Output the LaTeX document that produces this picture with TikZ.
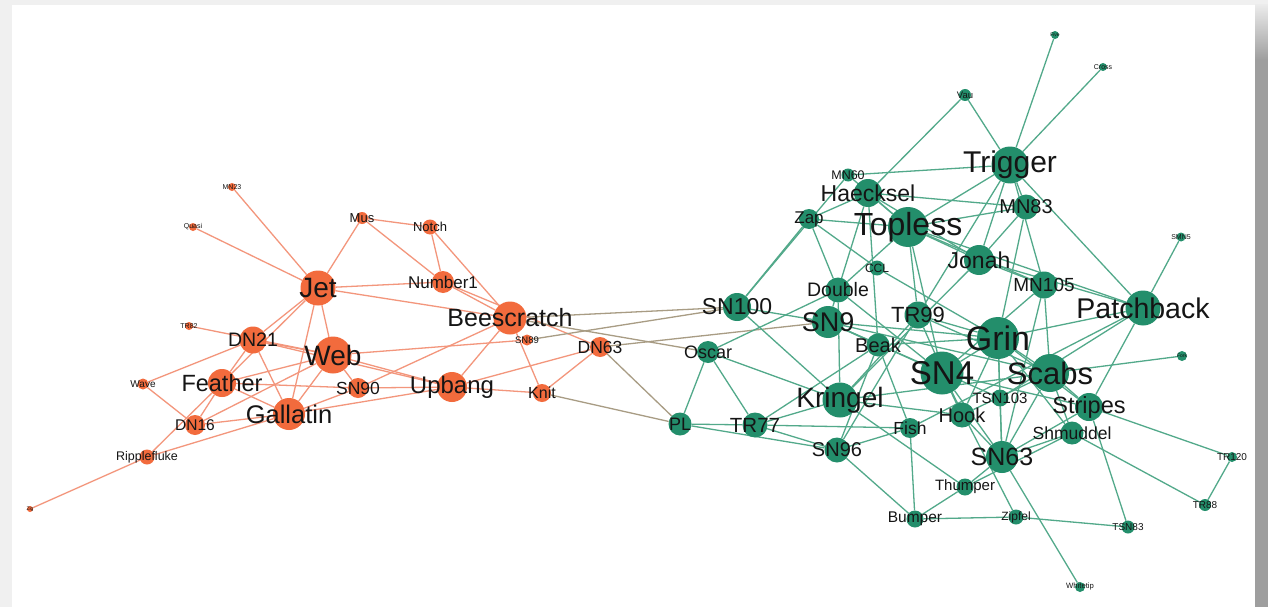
\documentclass[tikz,border=0pt]{standalone}
\usepackage{fontspec}
\setmainfont{Liberation Sans}
\pgfdeclarelayer{back}
\pgfdeclarelayer{edges}
\pgfsetlayers{back,edges,main}
\definecolor{orn}{HTML}{F26B3D}
\definecolor{grn}{HTML}{238E6B}
\definecolor{orne}{HTML}{F3967C}
\definecolor{grne}{HTML}{52A98A}
\definecolor{mixe}{HTML}{A89C84}
\definecolor{ink}{HTML}{151515}

\begin{document}
\begin{tikzpicture}[x=1pt,y=-1pt,
    or/.style={circle,fill=orn,inner sep=0pt,minimum size=#1pt},
    gr/.style={circle,fill=grn,inner sep=0pt,minimum size=#1pt},
    lb/.style 2 args={label={[font=\fontsize{#1}{#1}\selectfont,text=ink]center:#2}},
    dim/.style={every label/.append style={text=black!#1}},
    oe/.style={draw=orne,line width=1.3pt},
    ge/.style={draw=grne,line width=1.3pt},
    me/.style={draw=mixe,line width=1.3pt}]
    \useasboundingbox (0,0) rectangle (1268,607);
    \begin{pgfonlayer}{back}
        \fill[black!6] (0,0) rectangle (1268,607);
        \fill[white] (12,5) rectangle (1255,607);
        \shade[top color=black!8,bottom color=black!38] (1255,5) rectangle (1268,60);
        \fill[black!38] (1255,60) rectangle (1268,607);
    \end{pgfonlayer}
    % orange group
    \node[or=6,lb={5}{Zig}] (zig) at (30,509) {};
    \node[or=15,lb={12.5}{Ripplefluke},dim=80] (ripplefluke) at (147,457) {};
    \node[or=11,lb={10}{Wave}] (wave) at (143,384) {};
    \node[or=8,lb={7}{TR82}] (tr82) at (189,326) {};
    \node[or=8,lb={7}{Quasi}] (quasi) at (193,227) {};
    \node[or=8,lb={7}{MN23}] (mn23) at (232,187) {};
    \node[or=20,lb={15.5}{DN16},dim=70] (dn16) at (195,425) {};
    \node[or=28,lb={23.5}{Feather}] (feather) at (222,383) {};
    \node[or=27,lb={19.5}{DN21}] (dn21) at (253,340) {};
    \node[or=32,lb={25.5}{Gallatin}] (gallatin) at (289,414) {};
    \node[or=35,lb={28}{Jet}] (jet) at (318,288) {};
    \node[or=37,lb={28}{Web}] (web) at (333,355) {};
    \node[or=20,lb={17.5}{SN90}] (sn90) at (358,388) {};
    \node[or=12,lb={13}{Mus},dim=80] (mus) at (362,218) {};
    \node[or=15,lb={13}{Notch},dim=80] (notch) at (430,227) {};
    \node[or=22,lb={17}{Number1}] (number1) at (443,282) {};
    \node[or=30,lb={24}{Upbang}] (upbang) at (452,387) {};
    \node[or=33,lb={25}{Beescratch}] (beescratch) at (510,318) {};
    \node[or=11,lb={9.5}{SN89}] (sn89) at (527,340) {};
    \node[or=18,lb={16}{Knit},dim=70] (knit) at (542,393) {};
    \node[or=20,lb={17.5}{DN63}] (dn63) at (600,347) {};
    % green group
    \node[gr=28,lb={23}{SN100}] (sn100) at (737,307) {};
    \node[gr=22,lb={18}{Oscar}] (oscar) at (708,352) {};
    \node[gr=23,lb={18}{PL}] (pl) at (680,424) {};
    \node[gr=25,lb={20.5}{TR77}] (tr77) at (755,425) {};
    \node[gr=25,lb={20}{SN96}] (sn96) at (837,450) {};
    \node[gr=35,lb={28}{Kringel}] (kringel) at (840,400) {};
    \node[gr=32,lb={27}{SN9}] (sn9) at (828,322) {};
    \node[gr=25,lb={19.5}{Double}] (double) at (838,290) {};
    \node[gr=20,lb={17}{Zap}] (zap) at (809,219) {};
    \node[gr=13,lb={12.5}{MN60},dim=80] (mn60) at (848,175) {};
    \node[gr=28,lb={23}{Haecksel}] (haecksel) at (868,193) {};
    \node[gr=40,lb={32}{Topless}] (topless) at (908,227) {};
    \node[gr=15,lb={12}{CCL},dim=80] (ccl) at (877,268) {};
    \node[gr=23,lb={20}{Beak}] (beak) at (878,345) {};
    \node[gr=27,lb={22}{TR99}] (tr99) at (918,315) {};
    \node[gr=12,lb={9.5}{Vau}] (vau) at (965,95) {};
    \node[gr=8,lb={5}{Five}] (five) at (1055,35) {};
    \node[gr=8,lb={7}{Cross}] (cross) at (1103,67) {};
    \node[gr=37,lb={30}{Trigger}] (trigger) at (1010,165) {};
    \node[gr=25,lb={20}{MN83}] (mn83) at (1026,207) {};
    \node[gr=30,lb={23}{Jonah}] (jonah) at (979,260) {};
    \node[gr=27,lb={19}{MN105}] (mn105) at (1044,285) {};
    \node[gr=42,lb={34}{Grin}] (grin) at (998,338) {};
    \node[gr=43,lb={33}{SN4}] (sn4) at (942,373) {};
    \node[gr=38,lb={31}{Scabs}] (scabs) at (1050,373) {};
    \node[gr=35,lb={28.5}{Patchback}] (patchback) at (1143,308) {};
    \node[gr=9,lb={7}{SMN5}] (smn5) at (1181,237) {};
    \node[gr=10,lb={5}{Fork}] (fork) at (1182,356) {};
    \node[gr=17,lb={15}{TSN103},dim=55] (tsn103) at (1000,398) {};
    \node[gr=25,lb={20}{Hook}] (hook) at (962,415) {};
    \node[gr=20,lb={17.5}{Fish}] (fish) at (910,428) {};
    \node[gr=28,lb={23.5}{Stripes}] (stripes) at (1089,407) {};
    \node[gr=23,lb={17.5}{Shmuddel}] (shmuddel) at (1072,433) {};
    \node[gr=32,lb={25}{SN63}] (sn63) at (1002,457) {};
    \node[gr=17,lb={15}{Thumper},dim=65] (thumper) at (965,487) {};
    \node[gr=17,lb={15.5}{Bumper},dim=70] (bumper) at (915,519) {};
    \node[gr=15,lb={12}{Zipfel}] (zipfel) at (1016,517) {};
    \node[gr=13,lb={10}{TSN83}] (tsn83) at (1128,527) {};
    \node[gr=10,lb={10}{TR120}] (tr120) at (1232,457) {};
    \node[gr=12,lb={10}{TR88}] (tr88) at (1205,505) {};
    \node[gr=10,lb={7.7}{Whitetip},dim=70] (whitetip) at (1080,587) {};
    \begin{pgfonlayer}{edges}
        \foreach \a/\b in {dn16/feather,dn21/feather,gallatin/dn16,gallatin/dn21,gallatin/feather,
            jet/beescratch,jet/dn21,jet/feather,jet/gallatin,knit/beescratch,knit/dn63,mn23/jet,
            mus/jet,notch/beescratch,notch/mus,number1/beescratch,number1/dn63,number1/jet,
            number1/mus,number1/notch,quasi/jet,ripplefluke/feather,ripplefluke/gallatin,
            sn90/beescratch,sn90/feather,sn90/gallatin,upbang/beescratch,upbang/dn21,upbang/dn63,
            upbang/gallatin,upbang/knit,upbang/sn90,wave/dn16,wave/dn21,web/dn16,web/dn21,
            web/feather,web/gallatin,web/jet,web/sn89,web/sn90,web/tr82,web/upbang,zig/ripplefluke}
            \draw[oe] (\a) -- (\b);
        \foreach \a/\b in {knit/pl,dn63/pl,dn63/sn9,beescratch/oscar,beescratch/sn100,sn89/sn100}
            \draw[me] (\a) -- (\b);
        \foreach \a/\b in {fish/beak,fish/bumper,grin/beak,grin/ccl,haecksel/beak,hook/grin,
            jonah/haecksel,kringel/double,kringel/hook,kringel/jonah,mn105/jonah,mn83/grin,
            mn83/haecksel,mn83/jonah,oscar/double,oscar/kringel,patchback/fish,patchback/grin,
            patchback/jonah,pl/oscar,scabs/fork,scabs/grin,scabs/hook,scabs/kringel,scabs/mn105,
            shmuddel/grin,shmuddel/scabs,smn5/patchback,sn100/kringel,sn100/mn60,sn4/double,
            sn4/grin,sn4/hook,sn4/mn105,sn63/grin,sn63/hook,sn63/mn105,sn63/scabs,sn63/shmuddel,
            sn63/sn4,sn9/beak,sn9/grin,sn9/haecksel,sn9/scabs,sn9/sn100,sn9/sn4,sn96/beak,
            sn96/bumper,sn96/fish,sn96/pl,stripes/grin,stripes/patchback,stripes/scabs,stripes/sn4,
            stripes/sn63,thumper/bumper,thumper/kringel,thumper/shmuddel,thumper/sn63,
            topless/double,topless/haecksel,topless/jonah,topless/mn105,topless/mn60,topless/mn83,
            topless/patchback,topless/sn4,tr120/stripes,tr77/beak,tr77/fish,tr77/kringel,
            tr77/oscar,tr77/pl,tr77/sn96,tr88/shmuddel,tr88/tr120,tr99/grin,tr99/hook,
            tr99/kringel,tr99/scabs,tr99/sn96,tr99/topless,trigger/cross,trigger/five,
            trigger/jonah,trigger/mn105,trigger/mn60,trigger/mn83,trigger/patchback,
            trigger/topless,trigger/tr99,tsn103/grin,tsn103/patchback,tsn103/sn63,tsn103/sn9,
            tsn83/stripes,vau/haecksel,vau/trigger,whitetip/sn63,zap/ccl,zap/double,zap/haecksel,
            zap/sn100,zap/topless,zipfel/bumper,zipfel/sn4,zipfel/tsn83}
            \draw[ge] (\a) -- (\b);
    \end{pgfonlayer}
\end{tikzpicture}
\end{document}
